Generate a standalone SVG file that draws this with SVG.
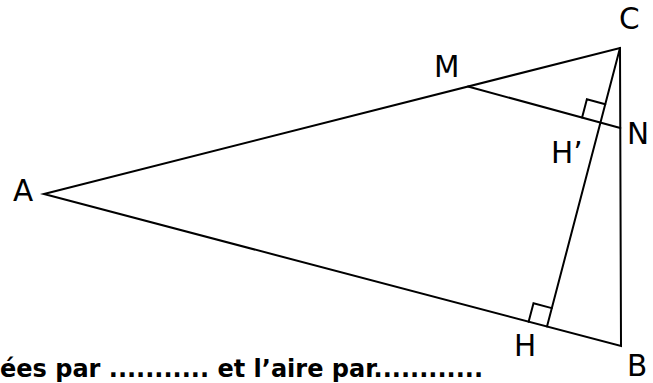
<svg xmlns="http://www.w3.org/2000/svg" width="653" height="383" viewBox="0 0 653 383">
<style>
.ln{stroke:#000;stroke-width:2;fill:none;stroke-linecap:round;stroke-linejoin:miter}
.lbl{font-family:"DejaVu Sans",Verdana,sans-serif;font-size:29.5px;fill:#000}
.cap{font-family:"DejaVu Sans",Verdana,sans-serif;font-size:24px;font-weight:bold;fill:#000}
</style>
<rect width="653" height="383" fill="#fff"/>
<g id="connectors">
<path class="ln" d="M44,194 L620,48 L621,346 Z"/>
<line class="ln" x1="468" y1="86.5" x2="620.3" y2="128"/>
<line class="ln" x1="620" y1="48" x2="547" y2="326.5"/>
<polyline class="ln" points="582.1,117.6 586.9,99.2 605.3,104.2"/>
<polyline class="ln" points="528.6,321.7 533.5,303.3 551.8,308.1"/>
</g>
<g id="A"><text class="lbl" x="13" y="201">A</text></g>
<g id="C"><text class="lbl" x="619" y="29">C</text></g>
<g id="B"><text class="lbl" x="627" y="376">B</text></g>
<g id="M"><text class="lbl" x="434" y="77">M</text></g>
<g id="N"><text class="lbl" x="627" y="144">N</text></g>
<g id="Hp"><text class="lbl" x="551" y="162.5">H’</text></g>
<g id="H"><text class="lbl" x="514" y="356">H</text></g>
<g id="caption"><text class="cap" x="0" y="377" textLength="483" lengthAdjust="spacing">ées par ........... et l’aire par............</text></g>
</svg>
